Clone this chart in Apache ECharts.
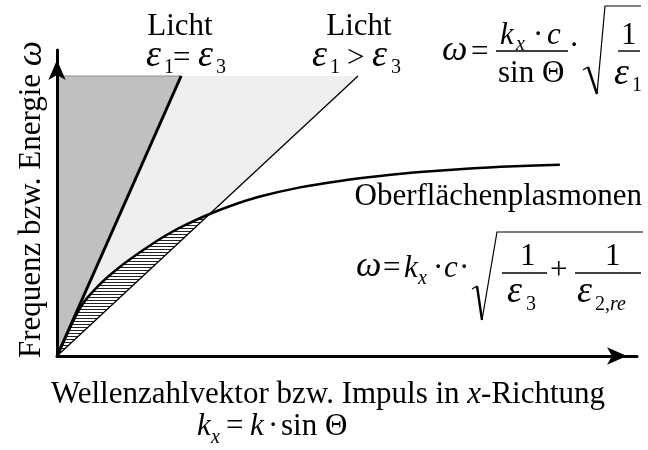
<!DOCTYPE html>
<html>
<head>
<meta charset="utf-8">
<script src="https://cdn.jsdelivr.net/npm/echarts@6/dist/echarts.min.js"></script>
<style>
  html, body { margin: 0; padding: 0; background: #fff; }
  #chart { width: 648px; height: 450px; }
</style>
</head>
<body>
<div id="chart"></div>
<script>
// Dispersion sketch: light lines and surface plasmon curve (arbitrary units, k_x and ω from 0 to 100)
const coneTop = 91.5;                          // upper edge of the shaded light cones
const lightEqual = [[0, 0], [21.4, 91.5]];     // Licht, ε1 = ε3
const lightGreater = [[0, 0], [51.9, 91.5]];   // Licht, ε1 > ε3
const plasmonK = [0, 1.5, 3.0, 4.2, 5.4, 6.8, 8.5, 10.5, 12.6, 15.0, 17.2, 19.5, 21.8, 25.8, 30.0, 35.0, 41.9, 48.8, 55.7, 62.6, 71.2, 78.9, 86.7];
const plasmonW = [0, 6.2, 12.2, 16.3, 19.4, 22.3, 25.4, 28.6, 31.6, 34.8, 37.6, 40.2, 42.5, 46.0, 49.1, 52.1, 55.1, 57.2, 58.8, 60.1, 61.3, 62.0, 62.5];

const plasmon = plasmonK.map((k, i) => [k, plasmonW[i]]);
const darkCone = [[0, 0], [0, coneTop], lightEqual[1]];
const lightCone = [[0, 0], lightEqual[1], lightGreater[1]];

// region between plasmon curve and the ε1 > ε3 light line, up to their crossing
const lightSlope = lightGreater[1][1] / lightGreater[1][0];
const hatchRegion = [[0, 0]];
for (let i = 1; i < plasmon.length; i++) {
  const [x0, y0] = plasmon[i - 1], [x1, y1] = plasmon[i];
  const d0 = y0 - lightSlope * x0, d1 = y1 - lightSlope * x1;
  if (d1 > 0) { hatchRegion.push([x1, y1]); continue; }
  const t = d0 / (d0 - d1);
  hatchRegion.push([x0 + t * (x1 - x0), y0 + t * (y1 - y0)]);
  break;
}

// horizontal hatching tile
const hatchTile = document.createElement('canvas');
hatchTile.width = 6; hatchTile.height = 3;
const hg = hatchTile.getContext('2d');
hg.fillStyle = '#ffffff'; hg.fillRect(0, 0, 6, 3);
hg.fillStyle = '#222222'; hg.fillRect(0, 0, 6, 1);

function areaSeries(pts, style, z) {
  return {
    type: 'custom', z: z, silent: true, data: pts,
    renderItem: function (params, api) {
      if (params.dataIndex !== 0) return null;
      return { type: 'polygon', shape: { points: pts.map(p => api.coord(p)) }, style: style };
    }
  };
}

// ---- text helpers (baseline-positioned) ----
const SERIF = '"Liberation Serif", "Times New Roman", serif';
const MID = 0.3375;
function T(s, x, base, size, opt) {
  opt = opt || {};
  const style = {
    text: s, fill: '#000', fontFamily: SERIF, fontSize: size,
    fontStyle: opt.it ? 'italic' : 'normal',
    align: opt.align || 'left', verticalAlign: 'middle'
  };
  if (opt.rich) style.rich = opt.rich;
  return { type: 'text', x: x, y: base - MID * size, z: 100, silent: true, style: style };
}
function L(x1, y1, x2, y2, w) {
  return { type: 'line', z: 100, silent: true, shape: { x1, y1, x2, y2 }, style: { stroke: '#000', lineWidth: w || 1.4 } };
}
function P(points, w) {
  return { type: 'polyline', z: 100, silent: true, shape: { points }, style: { stroke: '#000', lineWidth: w || 1.2, fill: null } };
}
const itRich = (size) => ({ i: { fontStyle: 'italic', fontSize: size, fontFamily: SERIF } });

const M = 31, S = 20, EPS = 38, OM = 36;
const graphics = [
  // labels of the light lines
  T('Licht', 180, 37, M, { align: 'center' }),
  T('ε', 146, 69, EPS, { it: 1 }), T('1', 164, 74, S), T('=', 173, 69, M),
  T('ε', 198, 69, EPS, { it: 1 }), T('3', 216, 74, S),
  T('Licht', 359, 37, M, { align: 'center' }),
  T('ε', 312, 69, EPS, { it: 1 }), T('1', 330, 74, S), T('>', 347, 69, M),
  T('ε', 372, 69, EPS, { it: 1 }), T('3', 391, 74, S),

  // ω = k_x·c / sin Θ · sqrt(1/ε1)
  T('ω', 442, 63, OM, { it: 1 }), T('=', 471, 63, M),
  T('k', 500, 46, M, { it: 1 }), T('x', 516, 51, S, { it: 1 }), T('·', 533, 46, M), T('c', 547, 46, M, { it: 1 }),
  L(496, 51, 568, 51),
  T('sin Θ', 498, 84, M),
  T('·', 569, 57, M),
  P([[583, 70], [588, 67]]), L(588, 67, 597, 94, 2.4), P([[597, 94], [605, 6], [641, 6]]),
  T('1', 621, 46, M), L(618, 51, 640, 51),
  T('ε', 614, 87, EPS, { it: 1 }), T('1', 632, 92, S),

  // surface plasmon label and dispersion relation
  T('Oberflächenplasmonen', 642, 207, M, { align: 'right' }),
  T('ω', 356, 279, OM, { it: 1 }), T('=', 383, 279, M),
  T('k', 404, 279, M, { it: 1 }), T('x', 418, 285, S, { it: 1 }),
  T('·', 433, 279, M), T('c', 444, 279, M, { it: 1 }), T('·', 459, 279, M),
  P([[472, 289], [477, 286]]), L(477, 286, 482, 320, 2.4), P([[482, 320], [497, 232], [643, 232]]),
  T('1', 520, 267, M), L(502, 273, 547, 273),
  T('ε', 507, 305, EPS, { it: 1 }), T('3', 526, 311, S),
  T('+', 550, 281, M),
  T('1', 605, 267, M), L(575, 273, 641, 273),
  T('ε', 577, 305, EPS, { it: 1 }), T('2,{i|re}', 595, 311, S, { rich: itRich(S) }),

  // axis titles
  T('Wellenzahlvektor bzw. Impuls in {i|x}-Richtung', 328, 405, M, { align: 'center', rich: itRich(M) }),
  T('k', 197, 437, M, { it: 1 }), T('x', 211, 444, S, { it: 1 }), T('=', 226, 437, M),
  T('k', 250, 437, M, { it: 1 }), T('·', 268, 437, M), T('sin Θ', 281, 437, M),
  {
    type: 'text', x: 42 - MID * M, y: 358, rotation: Math.PI / 2, z: 100, silent: true,
    style: {
      text: 'Frequenz bzw. Energie {i|ω}', fill: '#000', fontFamily: SERIF, fontSize: M,
      align: 'left', verticalAlign: 'middle', rich: itRich(OM)
    }
  }
];

const axisCommon = {
  type: 'value', min: 0, max: 100, z: 10,
  axisTick: { show: false }, axisLabel: { show: false }, splitLine: { show: false },
  axisLine: {
    show: true, onZero: false,
    lineStyle: { color: '#000', width: 3 },
    symbol: ['none', 'arrow'], symbolSize: [13, 20], symbolOffset: [0, -10]
  }
};

const chart = echarts.init(document.getElementById('chart'), null, { renderer: 'canvas' });
chart.setOption({
  animation: false,
  backgroundColor: '#fff',
  grid: { left: 57, right: 11, top: 50, bottom: 94, outerBoundsMode: 'none' },
  xAxis: axisCommon,
  yAxis: axisCommon,
  graphic: graphics,
  series: [
    areaSeries(darkCone, { fill: '#c0c0c0', stroke: '#8c8c8c', lineWidth: 1 }, 1),
    areaSeries(lightCone, { fill: '#efefef' }, 1),
    areaSeries(hatchRegion, { fill: { image: hatchTile, repeat: 'repeat' } }, 2),
    { type: 'line', data: lightEqual, symbol: 'none', silent: true, z: 5, lineStyle: { color: '#000', width: 3 } },
    { type: 'line', data: lightGreater, symbol: 'none', silent: true, z: 5, lineStyle: { color: '#000', width: 1.3 } },
    { type: 'line', data: plasmon, symbol: 'none', silent: true, z: 5, smooth: 0.25, lineStyle: { color: '#000', width: 2.5 } }
  ]
});
</script>
</body>
</html>
